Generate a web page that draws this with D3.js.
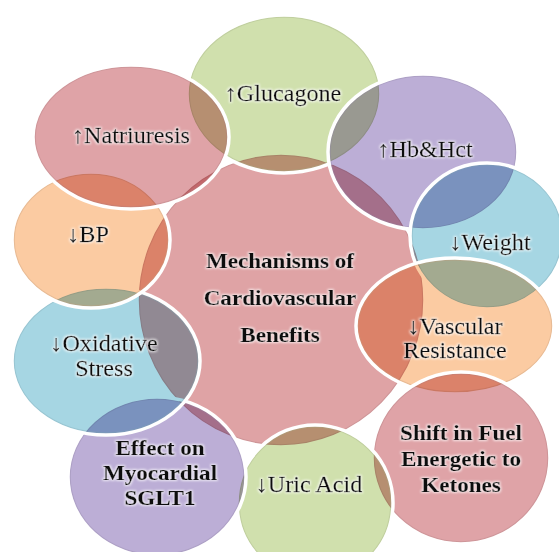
<!DOCTYPE html>
<html><head><meta charset="utf-8">
<script src="https://cdn.jsdelivr.net/npm/d3@7"></script>
<style>html,body{margin:0;padding:0;background:#fff;}svg{display:block;}</style>
</head><body>
<div id="chart"></div>
<script>
// ---- data ----
const centerLines = ["Mechanisms of", "Cardiovascular", "Benefits"];
const categories = [
  ["↑Glucagone"],
  ["↑Hb&Hct"],
  ["↓Weight"],
  ["↓Vascular", "Resistance"],
  ["Shift in Fuel", "Energetic to", "Ketones"],
  ["↓Uric Acid"],
  ["Effect on", "Myocardial", "SGLT1"],
  ["↓Oxidative", "Stress"],
  ["↓BP"],
  ["↑Natriuresis"]
];
const boldFlags = [false, false, false, false, true, false, true, false, false, false];
const colorKeys = ["green", "purple", "blue", "orange", "rose", "green", "purple", "blue", "orange", "rose"];

// ---- styles / layout (not data) ----
const palette = {green: "#d0e0ad", purple: "#bcaed6", blue: "#a6d6e3", orange: "#fbcba2", rose: "#dfa3a7", center: "#dfa3a5"};
const W = 559, H = 552;
const centerShape = {cx: 281, cy: 300, rx: 144, ry: 147, ty: [268, 305, 342]};
const shapes = [
  {cx: 284, cy: 94,  rx: 97, ry: 79, tx: 283, ty: [101]},
  {cx: 423, cy: 152, rx: 95, ry: 78, tx: 425, ty: [157]},
  {cx: 487, cy: 236, rx: 77, ry: 73, tx: 490, ty: [250]},
  {cx: 455, cy: 326, rx: 99, ry: 68, tx: 455, ty: [334, 358]},
  {cx: 461, cy: 458, rx: 89, ry: 86, tx: 461, ty: [440, 466, 492]},
  {cx: 315, cy: 503, rx: 78, ry: 78, tx: 309, ty: [492]},
  {cx: 157, cy: 477, rx: 89, ry: 80, tx: 160, ty: [455, 480, 505]},
  {cx: 106, cy: 361, rx: 94, ry: 74, tx: 104, ty: [351, 376]},
  {cx: 91,  cy: 240, rx: 79, ry: 68, tx: 88,  ty: [242]},
  {cx: 131, cy: 137, rx: 98, ry: 72, tx: 131, ty: [143]}
];

const svg = d3.select("#chart").append("svg").attr("width", W).attr("height", H);
const defs = svg.append("defs");
const f = defs.append("filter").attr("id", "glow").attr("x", "-20%").attr("y", "-40%").attr("width", "140%").attr("height", "180%");
f.append("feMorphology").attr("in", "SourceAlpha").attr("operator", "dilate").attr("radius", 1.2).attr("result", "d");
f.append("feGaussianBlur").attr("in", "d").attr("stdDeviation", 1.3).attr("result", "b");
f.append("feFlood").attr("flood-color", "#ffffff").attr("flood-opacity", 0.7);
f.append("feComposite").attr("in2", "b").attr("operator", "in").attr("result", "g");
const m = f.append("feMerge");
m.append("feMergeNode").attr("in", "g");
m.append("feMergeNode").attr("in", "SourceGraphic");

const shapeLayer = svg.append("g");
const allShapes = [Object.assign({color: palette.center}, centerShape)]
  .concat(shapes.map((s, i) => Object.assign({color: palette[colorKeys[i]]}, s)));

allShapes.forEach(s => {
  const g = shapeLayer.append("g");
  g.append("ellipse")
    .attr("cx", s.cx).attr("cy", s.cy).attr("rx", s.rx).attr("ry", s.ry)
    .attr("fill", s.color)
    .style("mix-blend-mode", "multiply");
  g.append("ellipse")
    .attr("cx", s.cx).attr("cy", s.cy).attr("rx", s.rx - 2.2).attr("ry", s.ry - 2.2)
    .attr("fill", "none").attr("stroke", d3.color(s.color).darker(0.7)).attr("stroke-opacity", 0.35)
    .attr("stroke-width", 1.2);
  g.append("ellipse")
    .attr("cx", s.cx).attr("cy", s.cy).attr("rx", s.rx).attr("ry", s.ry)
    .attr("fill", "none").attr("stroke", "#ffffff").attr("stroke-width", 3.5);
});

const textLayer = svg.append("g").attr("filter", "url(#glow)");
function addLines(lines, x, ys, bold) {
  lines.forEach((t, j) => {
    textLayer.append("text")
      .attr("transform", `translate(${x},${ys[j]}) scale(${bold ? 1.1 : 1.05},1)`)
      .attr("text-anchor", "middle")
      .attr("font-family", "'Liberation Serif', 'Times New Roman', serif")
      .attr("font-size", bold ? 21 : 23)
      .attr("font-weight", bold ? "bold" : "normal")
      .attr("fill", "#111")
      .attr("stroke", "#111").attr("stroke-width", 0.25)
      .text(t);
  });
}
addLines(centerLines, 280, centerShape.ty, true);
categories.forEach((lines, i) => addLines(lines, shapes[i].tx, shapes[i].ty, boldFlags[i]));
</script>
</body></html>
